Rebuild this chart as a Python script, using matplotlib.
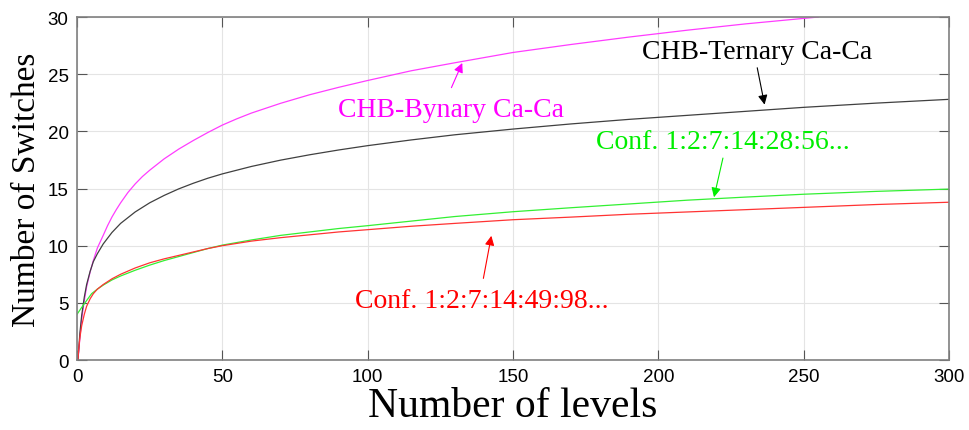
# Number of switches vs number of levels for the CHB / asymmetric configurations

import matplotlib.pyplot as plt
import numpy as np

# values
x_bin = [0.3, 0.6, 1, 1.6, 2.5, 3.3, 4.5, 5.6, 7, 9, 10.5, 12, 13.5, 15, 17.5, 20, 22.5, 25,
         30, 35, 40, 45, 50, 55, 60, 70, 80, 90, 100, 115, 130, 150, 170, 190, 210, 230, 255]
y_bin = [0, 0.8, 2.0, 3.6, 5.2, 6.4, 7.7, 8.7, 9.8, 10.9, 11.75, 12.5, 13.15, 13.75, 14.65,
         15.4, 16.05, 16.6, 17.6, 18.45, 19.2, 19.9, 20.55, 21.1, 21.6, 22.45, 23.2, 23.85,
         24.45, 25.3, 26.0, 26.9, 27.6, 28.25, 28.85, 29.4, 30.0]

x_ter = [0.3, 0.6, 1, 1.6, 2.5, 3.3, 4.5, 5.6, 7, 9, 12, 15, 20, 25, 30, 35, 40, 45, 50,
         60, 70, 80, 90, 100, 115, 130, 150, 170, 190, 210, 230, 250, 275, 300]
y_ter = [0, 1.0, 2.4, 3.9, 5.5, 6.6, 7.75, 8.6, 9.3, 10.15, 11.15, 11.95, 12.95, 13.75, 14.4,
         14.97, 15.46, 15.9, 16.28, 16.93, 17.48, 17.95, 18.37, 18.75, 19.25, 19.7, 20.2,
         20.65, 21.05, 21.4, 21.75, 22.1, 22.47, 22.8]

x_conf98 = x_ter
y_conf98 = [0, 1.0, 2.0, 3.0, 4.0, 4.7, 5.35, 5.8, 6.2, 6.6, 7.1, 7.5, 8.05, 8.5, 8.85, 9.15,
            9.45, 9.75, 10.0, 10.4, 10.7, 10.95, 11.2, 11.4, 11.7, 11.95, 12.27, 12.5, 12.75,
            12.95, 13.15, 13.35, 13.6, 13.8]

x_conf56 = [0, 1.6, 3.3, 5, 7, 9, 12, 15, 20, 25, 30, 35, 40, 45, 50, 60, 70, 80, 90, 100,
            115, 130, 150, 170, 190, 210, 230, 250, 275, 300]
y_conf56 = [4.0, 4.6, 5.2, 5.8, 6.2, 6.55, 7.0, 7.35, 7.85, 8.3, 8.7, 9.05, 9.4, 9.75, 10.05,
            10.5, 10.9, 11.2, 11.5, 11.75, 12.15, 12.55, 12.97, 13.32, 13.65, 13.98, 14.25,
            14.5, 14.75, 14.95]

x_ticks = [0, 50, 100, 150, 200, 250, 300]
y_ticks = [0, 5, 10, 15, 20, 25, 30]

fig = plt.figure(figsize=(9.69, 4.31), dpi=100)
ax = fig.add_axes([0.0795, 0.1624, 0.9, 0.7958])

ax.plot(x_bin, y_bin, color='#ff3cff', lw=0.9)
ax.plot(x_ter, y_ter, color='#404040', lw=0.9)
ax.plot(x_conf56, y_conf56, color='#33f033', lw=0.9)
ax.plot(x_conf98, y_conf98, color='#ff3333', lw=0.9)

ax.set_xlim(0, 300)
ax.set_ylim(0, 30)
ax.set_xticks(x_ticks)
ax.set_yticks(y_ticks)
ax.grid(True, color='#e4e4e4', lw=0.8)
ax.set_axisbelow(True)
ax.tick_params(direction='in', length=7, width=0.8, color='#555555', top=True, right=True,
               labelsize=13.5, pad=6)
for lab in ax.get_xticklabels() + ax.get_yticklabels():
    lab.set_family('Liberation Sans')
for s in ax.spines.values():
    s.set_color('#808080')
    s.set_linewidth(1.2)

ax.set_xlabel('Number of levels', family='Liberation Serif', fontsize=30, labelpad=1)
ax.set_ylabel('Number of Switches', family='Liberation Serif', fontsize=24, labelpad=4)

# annotations with arrows
ann = dict(family='Liberation Serif', fontsize=20, ha='left', va='baseline')
ax.text(89.6, 21.3, 'CHB-Bynary Ca-Ca', color='#ff00ff', **ann)
ax.annotate('', xy=(132.9, 26.2), xytext=(128.4, 23.6),
            arrowprops=dict(arrowstyle='-|>', color='#ff00ff', lw=0.8, mutation_scale=14))

ax.text(194.3, 26.4, 'CHB-Ternary Ca-Ca', color='black', **ann)
ax.annotate('', xy=(236.7, 22.1), xytext=(233.8, 25.8),
            arrowprops=dict(arrowstyle='-|>', color='black', lw=0.8, mutation_scale=14))

ax.text(178.6, 18.5, 'Conf. 1:2:7:14:28:56...', color='#00ee00', **ann)
ax.annotate('', xy=(218.9, 14.0), xytext=(222.4, 17.9),
            arrowprops=dict(arrowstyle='-|>', color='#00ee00', lw=0.8, mutation_scale=14))

ax.text(95.7, 4.6, 'Conf. 1:2:7:14:49:98...', color='#ff0000', **ann)
ax.annotate('', xy=(142.7, 11.1), xytext=(139.6, 6.9),
            arrowprops=dict(arrowstyle='-|>', color='#ff0000', lw=0.8, mutation_scale=14))

fig.savefig('out.png', dpi=100)
